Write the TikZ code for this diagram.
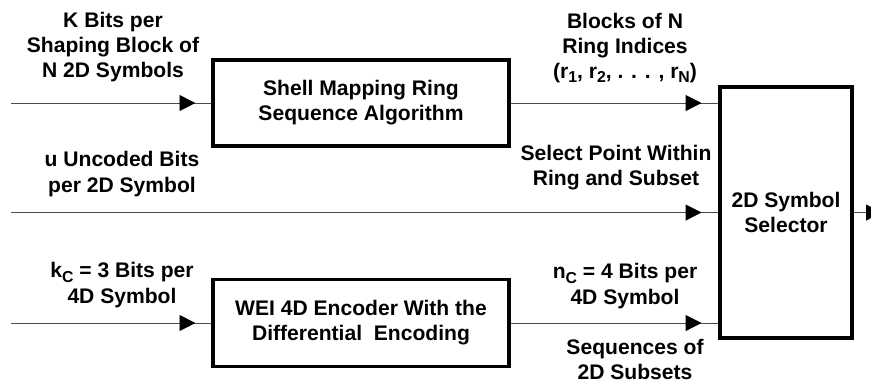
\documentclass[tikz,border=0pt]{standalone}
\usepackage{fontspec}
\setmainfont{Liberation Sans}
\usetikzlibrary{arrows.meta,positioning}
\newcommand\lowsub[1]{\raisebox{-0.4ex}{\fontsize{15}{15}\selectfont #1}}

\begin{document}
\begin{tikzpicture}[font=\bfseries\fontsize{20}{23.8}\selectfont,
  >={Triangle[length=5.3mm,width=5.3mm,color=black]},
  blk/.style={draw,line width=3.2pt,align=center},
  lbl/.style={align=center,inner sep=0pt},
  wire/.style={draw=black!70,line width=0.9pt}]
\clip (0,0) rectangle (29.033,12.767);
\node[blk,minimum width=9.867cm,minimum height=2.867cm] (map) at (12.033,9.333) {Shell Mapping Ring\\Sequence Algorithm};
\node[blk,minimum width=9.867cm,minimum height=2.9cm] (enc) at (12.033,2.0) {WEI 4D Encoder With the\\Differential~~Encoding};
\node[blk,minimum width=4.4cm,minimum height=8.367cm] (sel) at (26.2,5.683) {2D Symbol\\Selector};
\coordinate (k) at (0.367,9.333);
\coordinate (u) at (0.367,5.683);
\coordinate (kc) at (0.367,2.0);
\coordinate (out) at (29.4,5.683);
% input side
\draw[wire] (k) -- (map.west);\draw[wire,->] (k) -- ([xshift=-5.3mm]map.west);
\draw[wire] (kc) -- (enc.west);\draw[wire,->] (kc) -- ([xshift=-5.3mm]enc.west);
\draw[wire] (u) -- (sel.west);\draw[wire,->] (u) -- ([xshift=-5.6mm]sel.west);
% into the selector
\draw[wire] (map.east) -- (map.east -| sel.west);\draw[wire,->] (map.east) -- ([xshift=-5.6mm]map.east -| sel.west);
\draw[wire] (enc.east) -- (enc.east -| sel.west);\draw[wire,->] (enc.east) -- ([xshift=-5.6mm]enc.east -| sel.west);
\draw[wire,->] (sel.east) -- (out);
% labels
\node[lbl] (kl) at (3.767,11.2) {K Bits per\\Shaping Block of\\N 2D Symbols};
\node[lbl] (ul) at (4.067,6.967) {u Uncoded Bits\\per 2D Symbol};
\node[lbl] (kcl) at (4.067,3.267) {k\lowsub{C} = 3 Bits per\\4D Symbol};
\node[lbl] (rl) at (20.833,11.167) {Blocks of N\\Ring Indices\\(r\lowsub{1}, r\lowsub{2}, . . . , r\lowsub{N})};
\node[lbl] (pl) at (20.533,7.167) {Select Point Within\\Ring and Subset};
\node[lbl] (ncl) at (20.833,3.233) {n\lowsub{C} = 4 Bits per\\4D Symbol};
\node[lbl] (sl) at (21.167,0.8) {Sequences of\\2D Subsets};
\end{tikzpicture}
\end{document}
